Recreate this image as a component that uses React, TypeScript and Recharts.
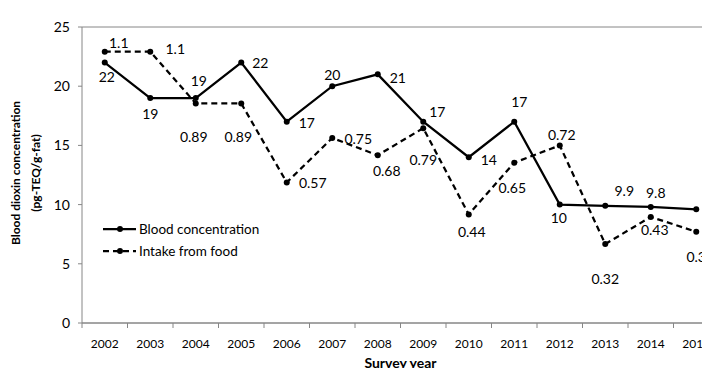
import { LineChart, Line, XAxis, YAxis, CartesianGrid, Legend, LabelList } from 'recharts';

const years = ['2002', '2003', '2004', '2005', '2006', '2007', '2008', '2009', '2010', '2011', '2012', '2013', '2014', '2015'];
const bloodConcentration = [22, 19, 19, 22, 17, 20, 21, 17, 14, 17, 10, 9.9, 9.8, 9.6];
const intakeFromFood = [1.1, 1.1, 0.89, 0.89, 0.57, 0.75, 0.68, 0.79, 0.44, 0.65, 0.72, 0.32, 0.43, 0.37];
const yTicks = [0, 5, 10, 15, 20, 25];

const data = years.map((year, i) => ({
  year,
  blood: bloodConcentration[i],
  intake: intakeFromFood[i],
}));

// label placement (dx, dy) per point, like Excel's hand-moved data labels
const bloodLabelOffsets = [[2, 14], [0, 15], [3, -18], [19, 0], [20, 1], [0, -12], [20, 3], [14, -10], [20, 2], [5, -20], [-1, 13], [19, -15], [5, -14], [20, 0]];
const intakeLabelOffsets = [[14, -9], [25, -3], [-2, 33], [-3, 33], [26, 0], [26, 0], [9, 15], [0, 31], [3, 17], [-2, 25], [2, -11], [0, 34], [4, 13], [4, 25]];

const GRAY = '#868686';
const HALF_BAND = 22.75;

const makeLabel = (offsets: number[][]) => (props: any) => {
  const { x, y, value, index } = props;
  const off = offsets[index] || [0, 0];
  return (
    <text
      x={x + off[0]}
      y={y + off[1]}
      textAnchor="middle"
      dominantBaseline="central"
      fontSize={14}
      fill="#000"
    >
      {value}
    </text>
  );
};

const YearTick = (props: any) => {
  const { x, y, payload, index } = props;
  const axisY = y - 8;
  return (
    <g>
      <line x1={x - HALF_BAND} x2={x - HALF_BAND} y1={axisY} y2={axisY + 5} stroke={GRAY} />
      {index === years.length - 1 && (
        <line x1={x + HALF_BAND} x2={x + HALF_BAND} y1={axisY} y2={axisY + 5} stroke={GRAY} />
      )}
      <text x={x} y={axisY + 20} textAnchor="middle" dominantBaseline="central" fontSize={12} fill="#000">
        {payload.value}
      </text>
    </g>
  );
};

const LegendContent = () => (
  <div style={{ fontSize: 13.5, color: '#000', lineHeight: '22px' }}>
    <div style={{ display: 'flex', alignItems: 'center' }}>
      <svg width={36} height={10}>
        <line x1={0} x2={33} y1={5} y2={5} stroke="#000" strokeWidth={2.25} />
        <circle cx={17} cy={5} r={3} fill="#000" />
      </svg>
      <span>Blood concentration</span>
    </div>
    <div style={{ display: 'flex', alignItems: 'center' }}>
      <svg width={36} height={10}>
        <line x1={0} x2={33} y1={5} y2={5} stroke="#000" strokeWidth={2.25} strokeDasharray="6 4" />
        <circle cx={17} cy={5} r={3} fill="#000" />
      </svg>
      <span>Intake from food</span>
    </div>
  </div>
);

export default function App() {
  return (
    <div style={{ width: 702, height: 360, overflow: 'hidden', fontFamily: 'Lato, sans-serif' }}>
      <LineChart
        width={740}
        height={360}
        data={data}
        margin={{ top: 19, right: 29, left: 0, bottom: 0 }}
      >
        <CartesianGrid vertical={false} stroke={GRAY} />
        <XAxis
          dataKey="year"
          height={45}
          padding={{ left: HALF_BAND, right: HALF_BAND }}
          axisLine={{ stroke: GRAY }}
          tickLine={false}
          tick={<YearTick />}
          interval={0}
          label={{
            value: 'Survey year',
            position: 'insideBottom',
            offset: 0,
            style: { fontSize: 14, fontWeight: 'bold', fill: '#000' },
          }}
        />
        <YAxis
          yAxisId="left"
          width={74}
          domain={[0, 25]}
          ticks={yTicks}
          axisLine={{ stroke: GRAY }}
          tickLine={{ stroke: GRAY }}
          tickSize={4}
          tickMargin={8}
          tick={{ fontSize: 14, fill: '#000' }}
          label={{
            content: () => (
              <text
                transform="translate(17,165) rotate(-90)"
                textAnchor="middle"
                fontSize={12}
                fontWeight="bold"
                fill="#000"
              >
                <tspan x={0} y={-10} dominantBaseline="central">Blood dioxin concentration</tspan>
                <tspan x={0} y={10} dominantBaseline="central">(pg-TEQ/g-fat)</tspan>
              </text>
            ),
          }}
        />
        <YAxis yAxisId="right" orientation="right" domain={[0, 1.2]} hide />
        <Legend
          layout="vertical"
          align="center"
          verticalAlign="middle"
          content={<LegendContent />}
          wrapperStyle={{ left: 95, top: 210, width: 'auto' }}
        />
        <Line
          yAxisId="left"
          dataKey="blood"
          name="Blood concentration"
          type="linear"
          stroke="#000"
          strokeWidth={2.25}
          dot={{ r: 3, fill: '#000', stroke: '#000', strokeWidth: 0 }}
          activeDot={false}
          isAnimationActive={false}
        >
          <LabelList dataKey="blood" content={makeLabel(bloodLabelOffsets)} />
        </Line>
        <Line
          yAxisId="right"
          dataKey="intake"
          name="Intake from food"
          type="linear"
          stroke="#000"
          strokeWidth={2.25}
          strokeDasharray="6 4"
          dot={{ r: 3, fill: '#000', stroke: '#000', strokeWidth: 0 }}
          activeDot={false}
          isAnimationActive={false}
        >
          <LabelList dataKey="intake" content={makeLabel(intakeLabelOffsets)} />
        </Line>
      </LineChart>
    </div>
  );
}
